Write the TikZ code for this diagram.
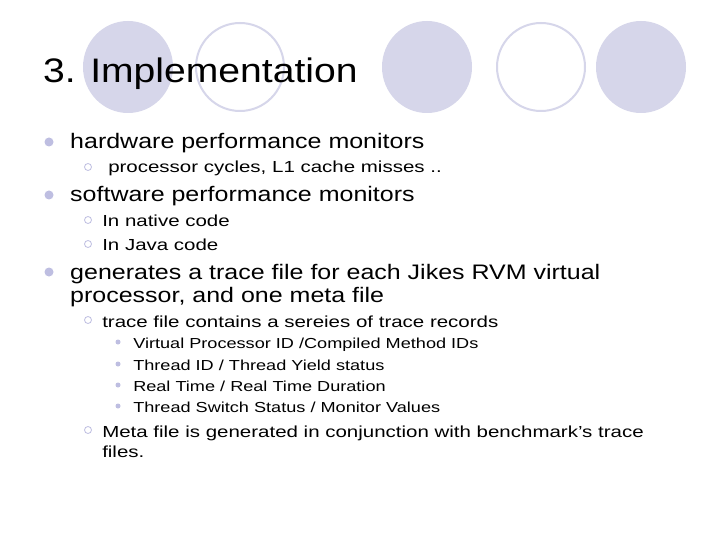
\documentclass[tikz,border=0pt]{standalone}
\usepackage{fontspec}
\setmainfont{Liberation Sans}
\definecolor{lav}{RGB}{214,214,234}
\definecolor{bul}{RGB}{190,190,225}
\begin{document}
\begin{tikzpicture}[x=1pt,y=-1pt,
  t1/.style={anchor=base west,inner sep=0pt,xscale=1.19,transform shape,font=\fontsize{21}{25}\selectfont},
  t2/.style={anchor=base west,inner sep=0pt,xscale=1.28,transform shape,font=\fontsize{16}{20}\selectfont},
  t3/.style={anchor=base west,inner sep=0pt,xscale=1.25,transform shape,font=\fontsize{14.5}{18}\selectfont}]
\useasboundingbox (0,0) rectangle (720,540);
\fill[white] (0,0) rectangle (720,540);
\fill[lav] (128,67) ellipse [x radius=45,y radius=46];
\draw[lav,line width=2] (240,67) ellipse [x radius=44,y radius=44];
\fill[lav] (427,67) ellipse [x radius=45,y radius=46];
\draw[lav,line width=2] (541,67) ellipse [x radius=44,y radius=44];
\fill[lav] (641,67) ellipse [x radius=45,y radius=46];
\node[anchor=base west,inner sep=0pt,xscale=1.15,transform shape,font=\fontsize{34}{40}\selectfont] (title) at (43,83) {3. Implementation};
\foreach \y in {142,195,272}
  \fill[bul] (49,\y) circle (4.5);
\node[t1] (l1) at (70,149) {hardware performance monitors};
\node[t1] (l2) at (70,202) {software performance monitors};
\node[t1] (l3) at (70,279) {generates a trace file for each Jikes RVM virtual};
\node[t1] (l3b) at (70,302) {processor, and one meta file};
\foreach \y in {167,220,244,320,430}
  \draw[bul,line width=0.8] (88,\y) circle (3.5);
\node[t2] (s1) at (108,173) {processor cycles, L1 cache misses ..};
\node[t2] (s2) at (102,226) {In native code};
\node[t2] (s3) at (102,250) {In Java code};
\node[t2] (s4) at (102,327) {trace file contains a sereies of trace records};
\node[t2] (s5) at (102,437) {Meta file is generated in conjunction with benchmark's trace};
\node[t2] (s5b) at (102,457) {files.};
\foreach \y in {342,364,385,406}
  \fill[bul] (118,\y) circle (2.5);
\node[t3] (u1) at (133,348) {Virtual Processor ID /Compiled Method IDs};
\node[t3] (u2) at (133,370) {Thread ID / Thread Yield status};
\node[t3] (u3) at (133,391) {Real Time / Real Time Duration};
\node[t3] (u4) at (133,412) {Thread Switch Status / Monitor Values};
\end{tikzpicture}
\end{document}
